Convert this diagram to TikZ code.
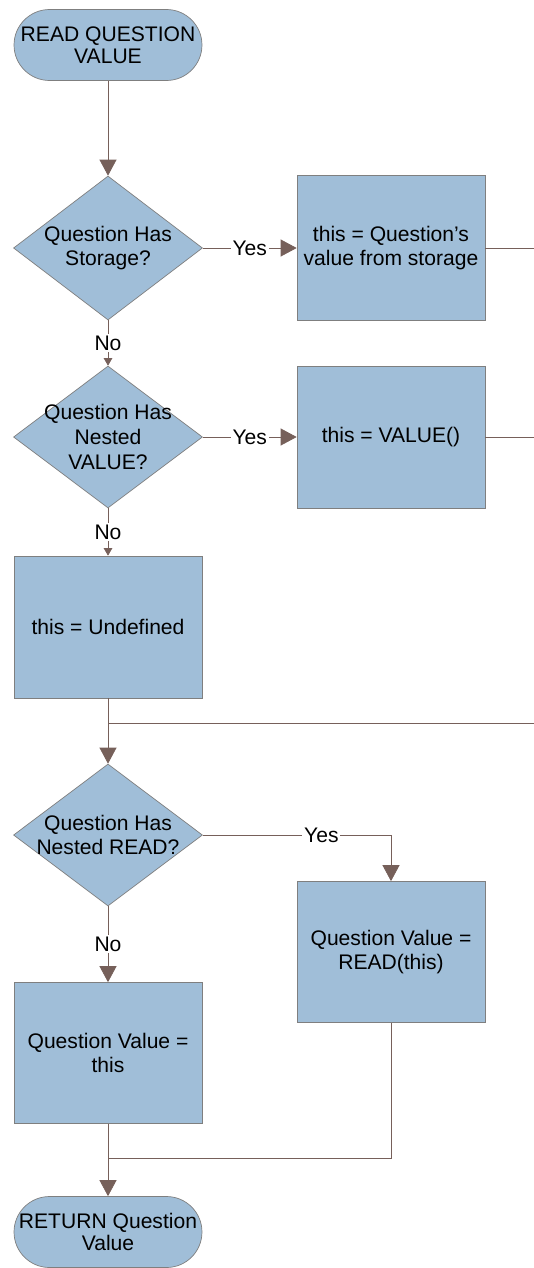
\documentclass[tikz,border=0pt]{standalone}
\usepackage{fontspec}
\setmainfont{Liberation Sans}
\usetikzlibrary{shapes.geometric, arrows.meta}
\definecolor{shapefill}{HTML}{A0BED8}
\definecolor{shapeline}{HTML}{7F7F7F}
\definecolor{flowline}{HTML}{76605A}
\begin{document}
\begin{tikzpicture}[x=0.02cm, y=-0.02cm, font=\fontsize{12}{14}\selectfont,
    terminal/.style={rectangle, rounded corners=0.71cm, draw=shapeline, fill=shapefill, minimum width=3.76cm, minimum height=1.42cm, inner sep=0pt, align=center, font=\fontsize{12}{12.5}\selectfont},
    decision/.style={diamond, draw=shapeline, fill=shapefill, minimum width=3.78cm, minimum height=2.84cm, inner sep=0pt},
    process/.style={rectangle, draw=shapeline, fill=shapefill, minimum width=3.76cm, inner sep=0pt, align=center},
    flow/.style={draw=flowline},
    arrow/.style={flow, -{Triangle[length=0.32cm, width=0.34cm]}},
    shortarrow/.style={flow, -{Triangle[length=0.15cm, width=0.17cm]}},
    answer/.style={fill=white, inner sep=1pt}]
    \useasboundingbox (0,0) rectangle (534,1268);
    % shapes
    \node[terminal] (start) at (108,45) {READ QUESTION\\VALUE};
    \node[decision, minimum height=2.88cm, label={[align=center]center:{Question Has\\Storage?}}] (hasstore) at (108,248) {};
    \node[process, minimum height=2.9cm] (fromstore) at (391,248) {this = Question's\\value from storage};
    \node[decision, label={[align=center]center:{Question Has\\Nested\\VALUE?}}] (hasvalue) at (108,437) {};
    \node[process, minimum height=2.84cm] (callvalue) at (391,437) {this = VALUE()};
    \node[process, minimum height=2.84cm] (undef) at (108,627) {this = Undefined};
    \node[decision, label={[align=center]center:{Question Has\\Nested READ?}}] (hasread) at (108,835) {};
    \node[process, minimum height=2.82cm] (callread) at (391,952) {Question Value =\\READ(this)};
    \node[process, minimum height=2.82cm] (plain) at (108,1053) {Question Value =\\this};
    \node[terminal] (return) at (108,1232) {RETURN Question\\Value};
    \coordinate (out1) at (534,248);
    \coordinate (out2) at (534,437);
    \coordinate (join) at (534,723);
    \coordinate (merge) at (108,1158);
    % connectors
    \draw[arrow] (start) -- (hasstore);
    \draw[arrow] (hasstore.east) -- node[answer] {Yes} (fromstore.west);
    \draw[flow] (fromstore.east) -- (out1);
    \draw[shortarrow] (hasstore.south) -- node[answer] {No} (hasvalue.north);
    \draw[arrow] (hasvalue.east) -- node[answer] {Yes} (callvalue.west);
    \draw[flow] (callvalue.east) -- (out2);
    \draw[shortarrow] (hasvalue.south) -- node[answer] {No} (undef.north);
    \draw[arrow] (undef.south) -- (hasread.north);
    \draw[flow] (undef.south |- join) -- (join);
    \draw[arrow] (hasread.east) -- node[answer, pos=0.63] {Yes} (hasread.east -| callread.north) -- (callread.north);
    \draw[arrow] (hasread.south) -- node[answer] {No} (plain.north);
    \draw[flow] (callread.south) |- (merge);
    \draw[arrow] (plain.south) -- (return.north);
\end{tikzpicture}
\end{document}
